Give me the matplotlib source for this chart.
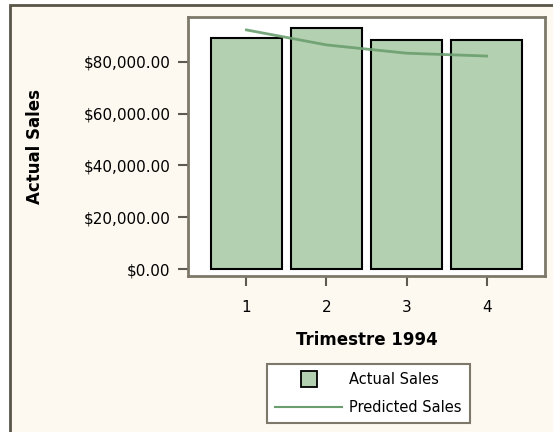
import matplotlib.pyplot as plt
from matplotlib.patches import Rectangle
from matplotlib.lines import Line2D
from matplotlib.ticker import FuncFormatter

# 数据
quarters = [1, 2, 3, 4]
actual_sales = [89400, 93100, 88500, 88500]
predicted_sales = [92400, 86600, 83400, 82300]
y_ticks = [0, 20000, 40000, 60000, 80000]

bar_color = '#b3d1b1'
line_color = '#6b9e6f'
frame_color = '#7d786a'

fig = plt.figure(figsize=(5.53, 4.32), dpi=100, facecolor='white')

# 外框
frame = Rectangle((10 / 553, -0.2), 1.2, 1.2 - 5 / 432, transform=fig.transFigure,
                  facecolor='#fdf9f1', edgecolor='#5a5548', linewidth=2, zorder=-1)
fig.add_artist(frame)

ax = fig.add_axes([188 / 553, 1 - 276 / 432, (545 - 188) / 553, (276 - 17) / 432])
ax.set_facecolor('white')

ax.bar(quarters, actual_sales, width=0.88, color=bar_color, edgecolor='black',
       linewidth=1.5, zorder=2)
ax.plot(quarters, predicted_sales, color=line_color, linewidth=2, alpha=0.9, zorder=3)

ax.set_xlim(0.27, 4.73)
ax.set_ylim(-2705, 97390)
ax.set_xticks(quarters)
ax.set_yticks(y_ticks)
ax.yaxis.set_major_formatter(FuncFormatter(lambda v, p: '${:,.2f}'.format(v)))

for s in ax.spines.values():
    s.set_color(frame_color)
    s.set_linewidth(2)

ax.tick_params(axis='both', length=7.5, width=1.5, color='#5e5a4f',
               labelsize=11, labelcolor='black')
ax.tick_params(axis='x', pad=10)
ax.tick_params(axis='y', pad=5)

# 轴标签
ax.set_xlabel('Trimestre 1994', fontsize=12, fontweight='bold', va='center')
ax.set_ylabel('Actual Sales', fontsize=12, fontweight='bold', va='center')
ax.xaxis.set_label_coords(0.5, -0.247)
ax.yaxis.set_label_coords(-0.4286, 0.5)

# 图例
handles = [
    Line2D([], [], marker='s', markersize=12, markerfacecolor=bar_color,
           markeredgecolor='black', markeredgewidth=1.3, linestyle='None'),
    Line2D([], [], color=line_color, linewidth=1.5),
]
leg = fig.legend(handles, ['Actual Sales', 'Predicted Sales'], loc='center',
                 bbox_to_anchor=(368.5 / 553, 1 - 393.5 / 432), fontsize=10.5,
                 handlelength=4.6, handletextpad=0.5, fancybox=False,
                 framealpha=1, edgecolor=frame_color, borderpad=0.55,
                 borderaxespad=0, labelspacing=0.85)
leg.get_frame().set_linewidth(1.5)

fig.savefig('out.png', dpi=100, facecolor=fig.get_facecolor())
